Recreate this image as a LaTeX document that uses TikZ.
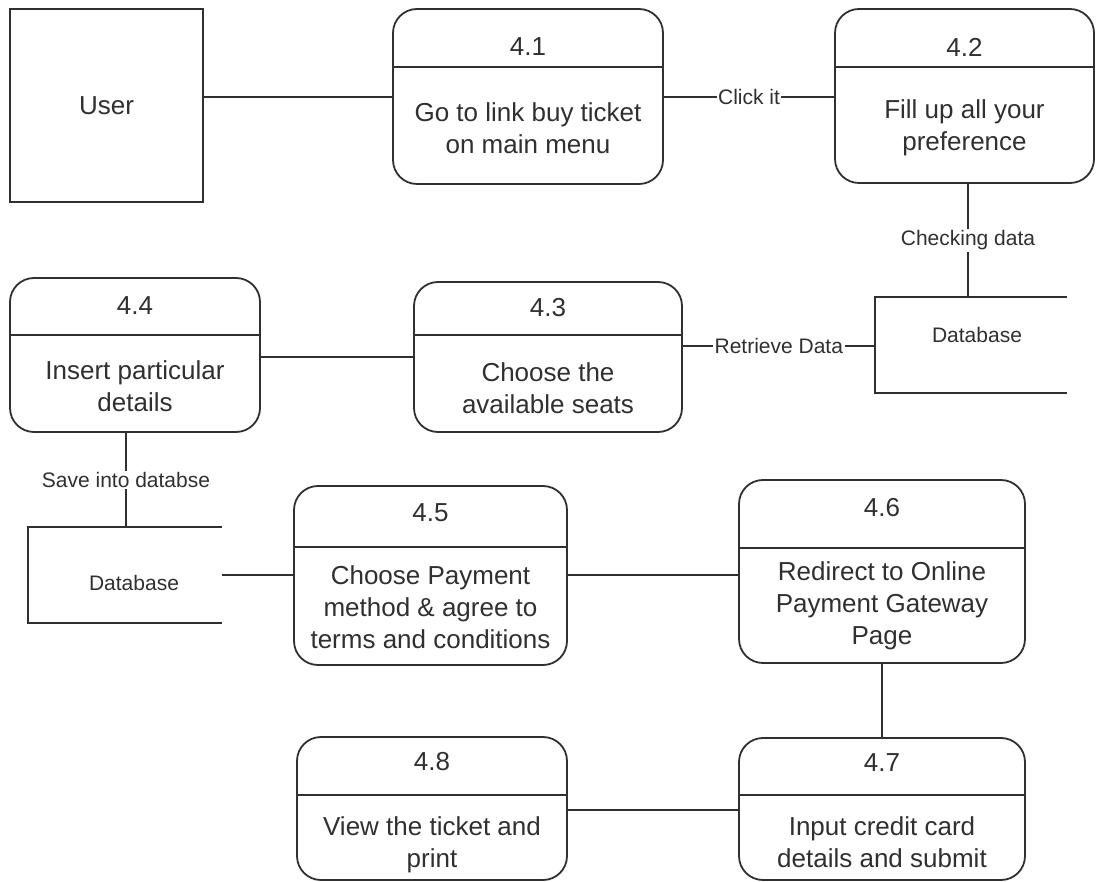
\documentclass[tikz,border=0pt]{standalone}
\usepackage{fontspec}
\setmainfont{Liberation Sans}
\definecolor{ink}{HTML}{303030}
\begin{document}
\begin{tikzpicture}[x=1pt,y=-1pt,
  entity/.style={draw=ink,line width=1.8pt,inner sep=0pt,text=ink,font=\fontsize{26}{32}\selectfont},
  procbox/.style={draw=ink,line width=1.8pt,rounded corners=24pt,inner sep=0pt},
  divider/.style={draw=ink,line width=1.8pt},
  procnum/.style={text=ink,inner sep=0pt,font=\fontsize{26}{32}\selectfont},
  proctext/.style={text=ink,inner sep=0pt,align=center,font=\fontsize{26}{32}\selectfont},
  storebox/.style={inner sep=0pt},
  storeline/.style={draw=ink,line width=1.8pt},
  storetext/.style={text=ink,inner sep=0pt,font=\fontsize{21}{25}\selectfont},
  flow/.style={draw=ink,line width=1.7pt},
  flowlabel/.style={fill=white,text=ink,inner sep=1.5pt,font=\fontsize{21}{25}\selectfont}]

% canvas
\path[use as bounding box,fill=white] (0,0) rectangle (1096,882);

% external entity
\node[entity,minimum width=193pt,minimum height=193pt] (user) at (106.5,105.5) {User};

% process boxes: name / centre x / centre y / width / height / divider y / number y / body y / number / body
\foreach \pn/\cx/\cy/\bw/\bh/\dv/\ny/\by/\num/\body in {
  p41/528/96.5/270/175/67/47/128/4.1/{Go to link buy ticket\\on main menu},
  p42/964.5/96/259/174/67/47/128/4.2/{Fill up all your\\preference},
  p43/548/357/268/150/335/308/388/4.3/{Choose the\\available seats},
  p44/135/355/250/154/335/306/386/4.4/{Insert particular\\details},
  p45/430.5/575.5/273/179/547/513/607/4.5/{Choose Payment\\method \& agree to\\terms and conditions},
  p46/882/571.5/286/183/548/508/606/4.6/{Redirect to Online\\Payment Gateway\\Page},
  p47/882/809/286/142/795/763/842/4.7/{Input credit card\\details and submit},
  p48/432/808.5/270/143/795/762/845/4.8/{View the ticket and\\print}}{
  \node[procbox,minimum width=\bw pt,minimum height=\bh pt] (\pn) at (\cx,\cy) {};
  \draw[divider] (\pn.west |- 0,\dv) -- (\pn.east |- 0,\dv);
  \node[procnum] (\pn-num) at (\cx,\ny) {\num};
  \node[proctext] (\pn-body) at (\cx,\by) {\body};
}

% data stores (open on the right)
\node[storebox,minimum width=192pt,minimum height=96pt] (db1) at (971,345) {};
\draw[storeline] (db1.north east) -- (db1.north west) -- (db1.south west) -- (db1.south east);
\node[storetext] (db1-text) at (977,335) {Database};

\node[storebox,minimum width=194pt,minimum height=96pt] (db2) at (125,575) {};
\draw[storeline] (db2.north east) -- (db2.north west) -- (db2.south west) -- (db2.south east);
\node[storetext] (db2-text) at (134,583) {Database};

% data flows
\draw[flow] (user.east |- 0,97) -- (p41.west |- 0,97);
\draw[flow] (p41.east |- 0,97) -- node[flowlabel] {Click it} (p42.west |- 0,97);
\draw[flow] (p42.south -| 968,0) -- node[flowlabel] {Checking data} (db1.north -| 968,0);
\draw[flow] (p43.east |- 0,346) -- node[flowlabel] {Retrieve Data} (db1.west |- 0,346);
\draw[flow] (p44.east |- 0,357) -- (p43.west |- 0,357);
\draw[flow] (p44.south -| 126,0) -- node[flowlabel] {Save into databse} (db2.north -| 126,0);
\draw[flow] (db2.east |- 0,575) -- (p45.west |- 0,575);
\draw[flow] (p45.east |- 0,575) -- (p46.west |- 0,575);
\draw[flow] (p46.south) -- (p47.north);
\draw[flow] (p48.east |- 0,810) -- (p47.west |- 0,810);
\end{tikzpicture}
\end{document}
